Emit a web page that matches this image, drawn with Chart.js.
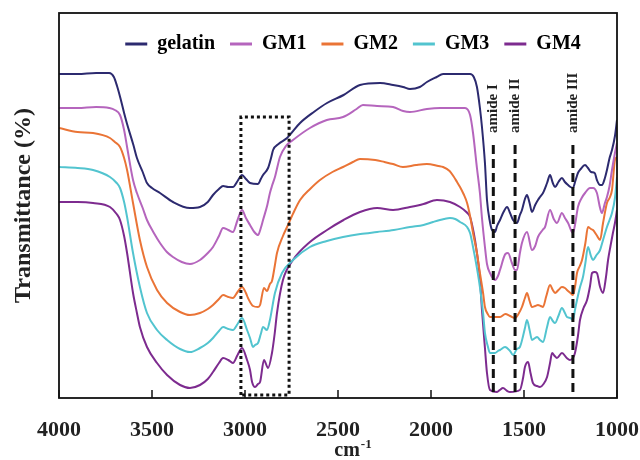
<!DOCTYPE html>
<html><head><meta charset="utf-8">
<script src="https://cdn.jsdelivr.net/npm/chart.js@4.4.1/dist/chart.umd.min.js"></script>
<style>html,body{margin:0;padding:0;background:#fff;}canvas{display:block;}</style>
</head><body>
<canvas id="c" width="640" height="460"></canvas>
<script>
// ---- data (x: wavenumber cm-1, y: transmittance, arbitrary units) ----
const seriesNames = ['gelatin', 'GM1', 'GM2', 'GM3', 'GM4'];
const seriesColors = ['#2c2a6f', '#b565bd', '#ea7436', '#52c4cf', '#7d2b8f'];

const gelatin = [[4000,324],[3900,324],[3800,325],[3730,325],[3705,321],[3688,312],[3670,300],[3650,285],[3634,274],[3600,253],[3581,240],[3550,226],[3527,215],[3500,210],[3457,205],[3387,196],[3296,190],[3242,191],[3200,196],[3172,203],[3140,209],[3118,212],[3090,211],[3065,211],[3040,217],[3016,223],[2995,219],[2973,215],[2930,214],[2915,219],[2903,223],[2876,230],[2860,240],[2849,248],[2820,254],[2774,260],[2704,275],[2630,286],[2559,295],[2470,303],[2382,313],[2274,315],[2204,313],[2150,311],[2113,309],[2060,311],[2022,316],[1970,321],[1935,324],[1850,324],[1790,324],[1770,321],[1753,311],[1737,290],[1726,271],[1710,235],[1699,198],[1683,176],[1672,168],[1656,166],[1645,172],[1629,178],[1610,186],[1591,191],[1575,185],[1559,178],[1538,175],[1522,183],[1511,188],[1495,199],[1484,203],[1470,195],[1457,186],[1440,193],[1425,198],[1414,201],[1398,205],[1376,215],[1360,223],[1345,215],[1333,211],[1315,216],[1296,220],[1280,216],[1263,213],[1250,211],[1237,210],[1224,217],[1210,225],[1195,229],[1172,233],[1156,230],[1140,226],[1120,225],[1108,218],[1091,213],[1081,213],[1065,220],[1054,228],[1040,240],[1027,248],[1011,262],[1000,278]];

const gm1 = [[4000,290],[3900,290],[3800,291],[3730,290],[3700,288],[3672,283],[3650,268],[3634,251],[3602,218],[3581,205],[3550,190],[3527,178],[3490,165],[3457,155],[3420,146],[3387,141],[3340,136],[3296,134],[3242,138],[3200,145],[3172,151],[3140,162],[3118,170],[3090,168],[3065,166],[3040,178],[3016,188],[2995,180],[2973,173],[2950,166],[2930,163],[2915,170],[2903,178],[2880,193],[2866,205],[2855,212],[2839,221],[2812,241],[2780,252],[2742,258],[2651,270],[2560,278],[2473,281],[2400,289],[2366,293],[2290,292],[2204,291],[2150,287],[2113,286],[2022,289],[1950,290],[1850,290],[1817,290],[1790,283],[1774,265],[1753,230],[1737,205],[1726,180],[1710,151],[1699,134],[1683,125],[1656,118],[1640,122],[1629,128],[1600,144],[1586,145],[1565,135],[1548,128],[1538,128],[1522,145],[1511,155],[1484,166],[1457,148],[1440,152],[1425,161],[1400,168],[1387,171],[1360,188],[1340,179],[1323,175],[1296,185],[1280,180],[1263,175],[1237,165],[1224,175],[1210,191],[1190,200],[1172,205],[1145,210],[1129,210],[1108,205],[1091,190],[1081,185],[1065,195],[1054,201],[1040,212],[1027,228],[1011,245],[1000,255]];

const gm2 = [[4000,270],[3900,266],[3817,265],[3726,260],[3700,256],[3672,251],[3650,240],[3634,228],[3602,195],[3565,158],[3527,131],[3473,108],[3419,95],[3349,86],[3296,83],[3242,85],[3200,89],[3172,93],[3140,99],[3118,103],[3090,101],[3065,100],[3040,106],[3016,111],[2995,105],[2984,100],[2957,92],[2930,91],[2919,93],[2898,110],[2882,107],[2866,114],[2855,117],[2840,132],[2828,145],[2796,162],[2774,171],[2740,185],[2704,198],[2650,209],[2597,218],[2530,226],[2473,231],[2420,236],[2382,239],[2300,238],[2250,236],[2204,234],[2151,231],[2080,233],[2022,234],[1960,232],[1935,231],[1900,227],[1880,222],[1860,216],[1844,211],[1825,204],[1806,195],[1790,182],[1774,165],[1753,145],[1737,125],[1720,105],[1710,91],[1695,84],[1683,81],[1656,81],[1629,81],[1600,84],[1575,82],[1548,80],[1530,84],[1511,91],[1495,100],[1484,105],[1470,97],[1457,91],[1440,92],[1425,93],[1410,92],[1398,91],[1380,102],[1360,113],[1345,108],[1333,105],[1315,108],[1296,111],[1280,110],[1269,108],[1250,105],[1237,103],[1225,112],[1215,125],[1200,132],[1188,138],[1170,155],[1156,171],[1140,169],[1129,168],[1110,163],[1091,158],[1075,175],[1054,195],[1040,200],[1027,208],[1011,238],[1000,241]];

const gm3 = [[4000,231],[3900,230],[3817,228],[3726,221],[3690,215],[3672,210],[3650,196],[3634,181],[3602,145],[3565,111],[3527,85],[3473,68],[3419,58],[3349,49],[3296,46],[3242,50],[3200,55],[3172,60],[3140,67],[3118,71],[3090,69],[3065,68],[3040,74],[3016,80],[2989,68],[2973,60],[2957,51],[2946,53],[2930,55],[2915,64],[2903,71],[2882,68],[2866,78],[2839,105],[2801,125],[2742,138],[2651,151],[2560,157],[2473,161],[2380,164],[2290,166],[2200,168],[2113,171],[2040,173],[1989,176],[1930,179],[1898,180],[1870,179],[1844,176],[1806,171],[1790,165],[1774,151],[1753,130],[1737,111],[1720,85],[1710,65],[1695,52],[1683,45],[1656,45],[1640,47],[1629,48],[1602,51],[1575,47],[1559,43],[1538,49],[1522,51],[1505,62],[1495,70],[1484,78],[1470,68],[1457,58],[1440,60],[1430,61],[1414,58],[1398,56],[1376,71],[1360,81],[1345,77],[1333,75],[1315,82],[1296,90],[1280,85],[1269,81],[1250,80],[1237,78],[1226,88],[1215,98],[1200,110],[1183,121],[1170,135],[1156,151],[1140,142],[1129,138],[1110,143],[1091,148],[1075,158],[1054,171],[1040,178],[1027,185],[1011,200],[1000,221]];

const gm4 = [[4000,196],[3900,196],[3817,195],[3726,191],[3690,184],[3672,178],[3650,162],[3634,145],[3602,105],[3581,85],[3565,71],[3527,51],[3473,35],[3419,23],[3349,13],[3296,10],[3242,13],[3200,19],[3172,26],[3140,35],[3118,40],[3090,38],[3065,35],[3040,43],[3016,50],[2989,38],[2973,28],[2962,16],[2946,11],[2930,14],[2919,16],[2898,38],[2876,30],[2855,45],[2840,65],[2828,85],[2796,118],[2742,138],[2651,156],[2559,168],[2470,178],[2382,186],[2290,190],[2204,188],[2113,191],[2040,194],[1968,198],[1898,196],[1844,191],[1810,186],[1790,181],[1770,165],[1753,145],[1737,120],[1726,88],[1710,50],[1699,25],[1683,8],[1645,6],[1630,8],[1613,10],[1590,7],[1575,6],[1522,8],[1505,20],[1495,31],[1478,36],[1465,25],[1452,15],[1430,12],[1414,11],[1395,14],[1376,21],[1360,35],[1349,45],[1335,42],[1323,40],[1296,45],[1270,40],[1253,38],[1237,40],[1226,45],[1210,62],[1199,78],[1180,90],[1161,98],[1145,112],[1134,125],[1120,126],[1108,125],[1091,111],[1075,105],[1060,120],[1048,138],[1035,152],[1022,165],[1011,175],[1000,188]];

const xTicks = [4000, 3500, 3000, 2500, 2000, 1500, 1000];
const amideWn = [1665, 1548, 1237];
const amideLabels = ['amide I', 'amide II', 'amide III'];
const amideRange = [6, 253];
const amideLabelT = 265;
const boxWn = [3022, 2763];
const boxT = [3, 281];
const yTitle = 'Transmittance (%)';
const xTitle = ['cm', '-1'];

// ---- build chart ----
const allSeries = [gelatin, gm1, gm2, gm3, gm4];
const FONT = '"Liberation Serif", "Times New Roman", serif';
const toXY = arr => arr.map(p => ({x: p[0], y: p[1]}));

const datasets = allSeries.map((s, i) => ({
  label: seriesNames[i],
  data: toXY(s),
  borderColor: seriesColors[i],
  backgroundColor: seriesColors[i],
  borderWidth: 2,
  pointRadius: 0,
  fill: false,
  cubicInterpolationMode: 'monotone',
  order: 1
}));

amideWn.forEach(w => datasets.push({
  label: '_amide',
  data: [{x: w, y: amideRange[0]}, {x: w, y: amideRange[1]}],
  borderColor: '#111',
  borderWidth: 3,
  borderDash: [9, 5],
  pointRadius: 0,
  tension: 0,
  fill: false,
  order: 0
}));

datasets.push({
  label: '_box',
  data: [
    {x: boxWn[0], y: boxT[0]}, {x: boxWn[0], y: boxT[1]},
    {x: boxWn[1], y: boxT[1]}, {x: boxWn[1], y: boxT[0]},
    {x: boxWn[0], y: boxT[0]}
  ],
  borderColor: '#111',
  borderWidth: 3,
  borderDash: [3, 3],
  pointRadius: 0,
  tension: 0,
  fill: false,
  order: 0
});

const decor = {
  id: 'decor',
  beforeLayout(chart) {
    const lg = chart.legend;
    if (lg && !lg._patched) {
      const fit = lg.fit.bind(lg);
      lg.fit = function () { fit(); this.height = 0; };
      lg._patched = true;
    }
  },
  afterLayout(chart) {
    const lg = chart.legend, ca = chart.chartArea;
    if (!lg) return;
    lg.left = ca.left + 30; lg.right = ca.right; lg.width = lg.right - lg.left;
    lg.top = ca.top + 6; lg.height = 50; lg.bottom = lg.top + lg.height;
  },
  afterDraw(chart) {
    const {ctx, chartArea: ca, scales: {x}} = chart;
    ctx.save();
    // inward tick marks
    ctx.strokeStyle = '#111';
    ctx.lineWidth = 1.5;
    x.ticks.forEach(t => {
      const px = x.getPixelForValue(t.value);
      ctx.beginPath(); ctx.moveTo(px, ca.bottom); ctx.lineTo(px, ca.bottom - 8); ctx.stroke();
    });
    // frame
    ctx.lineWidth = 1.8;
    ctx.strokeRect(ca.left, ca.top, ca.right - ca.left, ca.bottom - ca.top);
    // amide labels
    const y = chart.scales.y;
    ctx.fillStyle = '#222';
    ctx.font = 'bold 15px ' + FONT;
    ctx.textAlign = 'left';
    ctx.textBaseline = 'middle';
    amideWn.forEach((w, i) => {
      ctx.save();
      ctx.translate(x.getPixelForValue(w), y.getPixelForValue(amideLabelT));
      ctx.rotate(-Math.PI / 2);
      ctx.fillText(amideLabels[i], 0, 0);
      ctx.restore();
    });
    // x-axis title with superscript
    ctx.textBaseline = 'alphabetic';
    const big = 'bold 20px ' + FONT, small = 'bold 13px ' + FONT;
    ctx.font = big; const w1 = ctx.measureText(xTitle[0]).width;
    ctx.font = small; const w2 = ctx.measureText(xTitle[1]).width;
    const cx = (ca.left + ca.right) / 2 + 15;
    const start = cx - (w1 + w2 + 1) / 2;
    const base = ca.bottom + 58;
    ctx.font = big; ctx.fillText(xTitle[0], start, base);
    ctx.font = small; ctx.fillText(xTitle[1], start + w1 + 1, base - 8);
    ctx.restore();
  }
};

new Chart(document.getElementById('c'), {
  type: 'line',
  data: {datasets},
  options: {
    responsive: false,
    animation: false,
    devicePixelRatio: 1,
    layout: {padding: {top: 13, right: 23, left: 0, bottom: 0}},
    plugins: {
      tooltip: {enabled: false},
      legend: {
        position: 'top',
        align: 'center',
        fullSize: false,
        labels: {
          boxWidth: 22,
          boxHeight: 3,
          padding: 15,
          color: '#222',
          font: {family: FONT, size: 20, weight: 'bold'},
          generateLabels: chart => chart.data.datasets.slice(0, seriesNames.length).map((ds, i) => ({
            text: ds.label, fillStyle: ds.borderColor, strokeStyle: ds.borderColor,
            lineWidth: 0, hidden: false, datasetIndex: i
          }))
        }
      }
    },
    scales: {
      x: {
        type: 'linear',
        min: 1000, max: 4000,
        reverse: true,
        afterBuildTicks: s => { s.ticks = xTicks.map(v => ({value: v})); },
        afterFit: s => { s.height = 62; s.paddingLeft = 0; s.paddingRight = 0; },
        grid: {display: false, drawTicks: false},
        border: {display: false},
        ticks: {
          padding: 19,
          color: '#222',
          maxRotation: 0,
          autoSkip: false,
          font: {family: FONT, size: 22, weight: 'bold'},
          callback: v => String(v)
        }
      },
      y: {
        type: 'linear',
        min: 0, max: 385,
        afterFit: s => { s.width = 59; },
        grid: {display: false, drawTicks: false},
        border: {display: false},
        ticks: {display: false},
        title: {
          display: true,
          text: yTitle,
          color: '#222',
          padding: {top: 9, bottom: 0},
          font: {family: FONT, size: 24, weight: 'bold'}
        }
      }
    }
  },
  plugins: [decor]
});
</script>
</body></html>
